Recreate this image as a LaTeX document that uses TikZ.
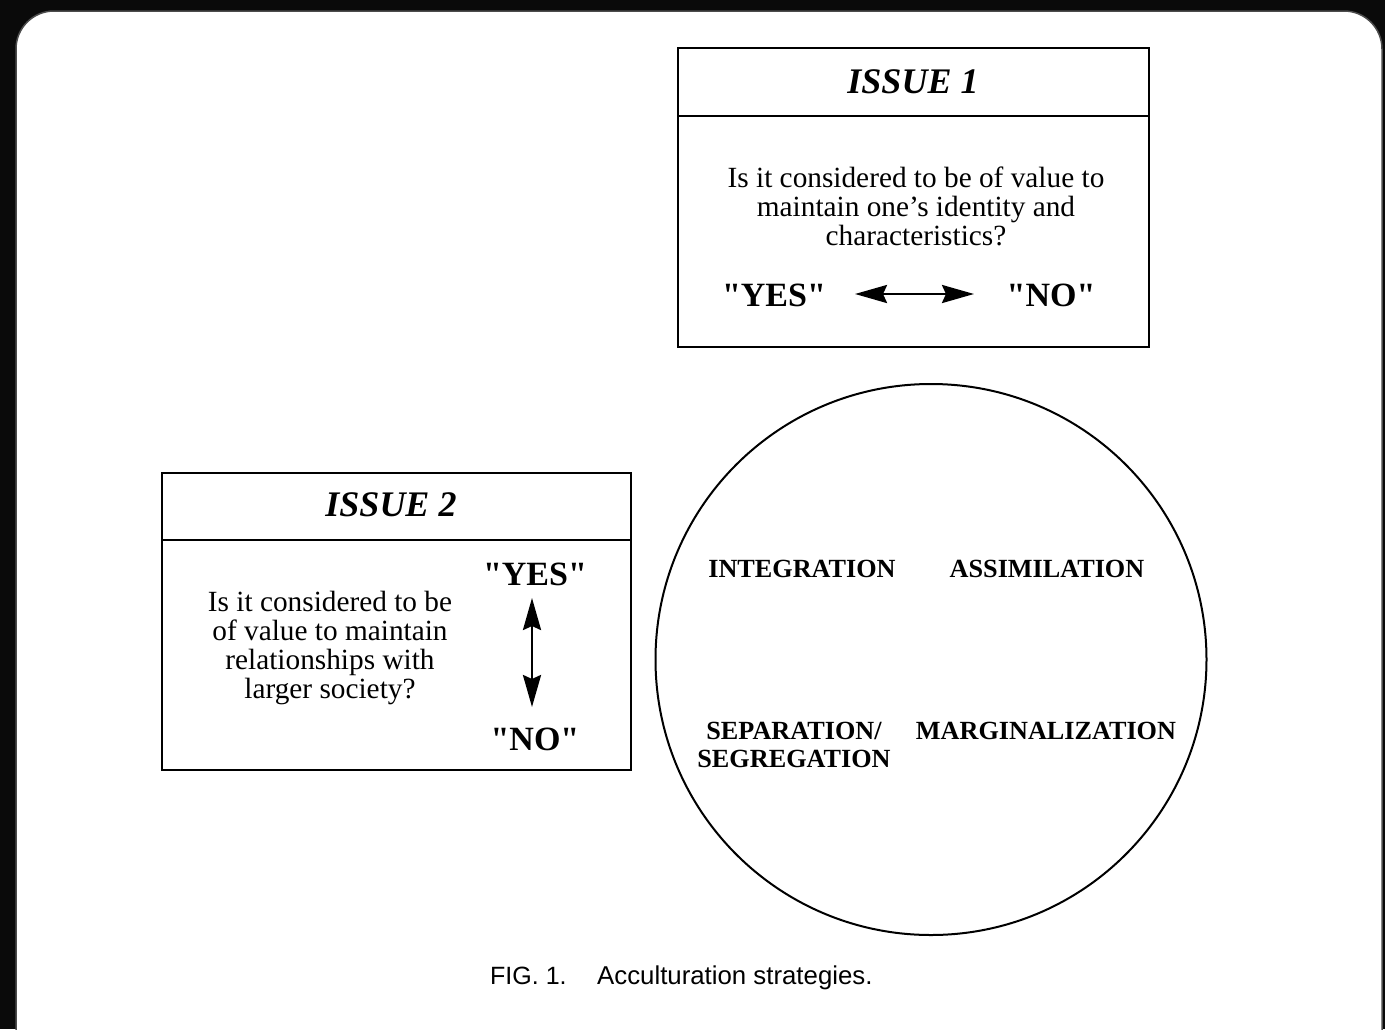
\documentclass[tikz,border=0pt]{standalone}
\usepackage{fontspec}
\setmainfont{Liberation Serif}
\newfontfamily\plainserif{Liberation Serif}
\newfontfamily\capfont{Liberation Sans}
\usetikzlibrary{arrows.meta}
\begin{document}
\begin{tikzpicture}[x=1pt,y=-1pt,
  boxpart/.style={draw=black, line width=2pt, inner sep=0pt},
  body/.style={font=\fontsize{29.3}{29}\selectfont, align=center, inner sep=0pt},
  title/.style={font=\fontsize{36}{40}\selectfont\bfseries\itshape, inner sep=0pt},
  answer/.style={font=\fontsize{34}{38}\selectfont\plainserif\bfseries, inner sep=0pt},
  strategy/.style={font=\fontsize{26.2}{28}\selectfont\bfseries, align=center, inner sep=0pt},
  twoway/.style={line width=2.8pt, {Stealth[length=32pt,width=18pt,inset=4pt]}-{Stealth[length=32pt,width=18pt,inset=4pt]}}
]
\useasboundingbox (0,0) rectangle (1385,1029);
\clip (0,0) rectangle (1385,1029);
\fill[black!96] (0,0) rectangle (1385,1029);
\filldraw[fill=white, draw=black!70, line width=1.5pt, rounded corners=38pt] (16,11) rectangle (1382,1080);

% Issue 1
\node[boxpart, minimum width=471pt, minimum height=68pt] (t1) at (913.5,82) {};
\node[boxpart, minimum width=471pt, minimum height=231pt] (b1) at (913.5,231.5) {};
\node[title] (t1txt) at (913,82) {ISSUE 1};
\node[body] (q1) at (916,206) {Is it considered to be of value to\\maintain one's identity and\\characteristics?};
\node[answer] (yes1) at (774,295) {"YES"};
\node[answer] (no1) at (1051,295) {"NO"};
\coordinate (h1) at (855,294);
\coordinate (h2) at (974,294);
\draw[twoway] (h1) -- (h2);

% Issue 2
\node[boxpart, minimum width=469pt, minimum height=67pt] (t2) at (396.5,506.5) {};
\node[boxpart, minimum width=469pt, minimum height=230pt] (b2) at (396.5,655) {};
\node[title] (t2txt) at (391,505) {ISSUE 2};
\node[body] (q2) at (330,648) {Is it considered to be\\of value to maintain\\relationships with\\larger society?};
\node[answer] (yes2) at (535,574) {"YES"};
\node[answer] (no2) at (535,739) {"NO"};
\coordinate (v1) at (532,598);
\coordinate (v2) at (532,707);
\draw[twoway] (v1) -- (v2);

% Circle
\node[draw=black, line width=2pt, circle, minimum size=551pt, inner sep=0pt] (c) at (931,659.5) {};
\node[strategy] (int) at (802,569) {INTEGRATION};
\node[strategy] (ass) at (1047,569) {ASSIMILATION};
\node[strategy] (sep) at (794,745) {SEPARATION/\\SEGREGATION};
\node[strategy] (mar) at (1046,731) {MARGINALIZATION};

% Caption
\node[font=\fontsize{25}{28}\selectfont\capfont, anchor=base west, inner sep=0pt] (fig) at (490,984) {FIG. 1.};
\node[font=\fontsize{25.8}{28}\selectfont\capfont, anchor=base west, inner sep=0pt] (cap) at (597,984) {Acculturation strategies.};
\end{tikzpicture}
\end{document}
